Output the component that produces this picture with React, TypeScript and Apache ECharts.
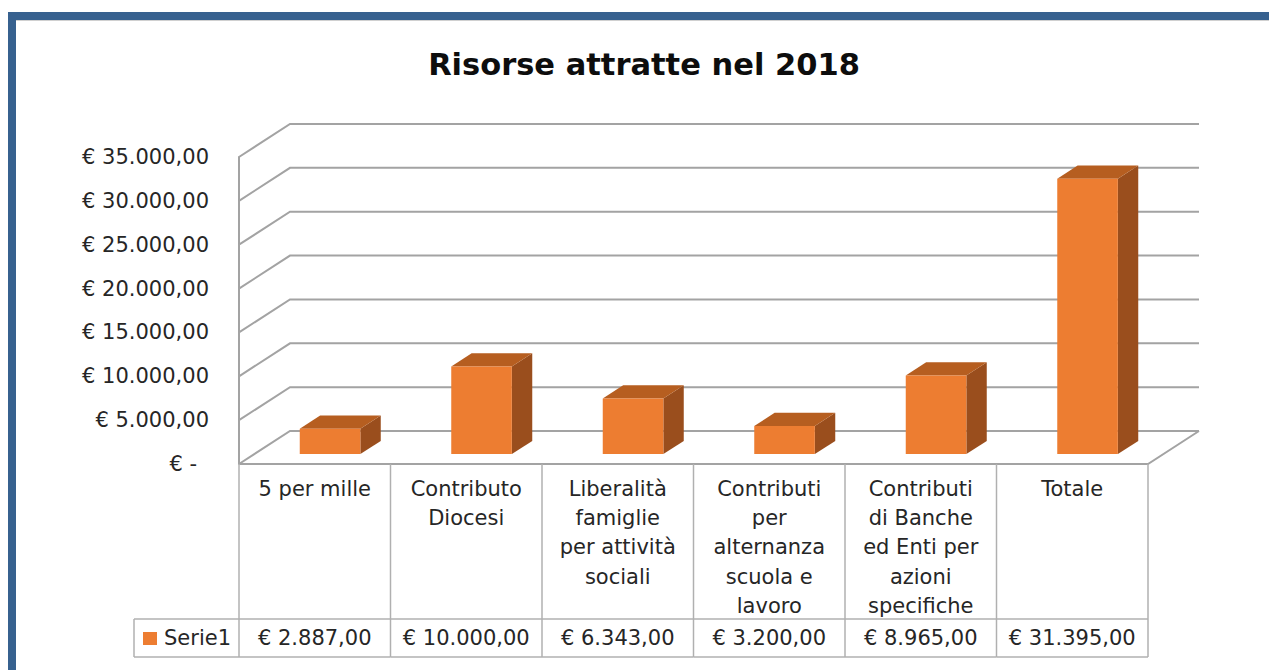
import React, { useEffect, useRef } from 'react';
import * as echarts from 'echarts';

// ---------- data ----------
const chartTitle = 'Risorse attratte nel 2018';
const seriesName = 'Serie1';
const categories = [
  '5 per mille',
  'Contributo Diocesi',
  'Liberalità famiglie per attività sociali',
  'Contributi per alternanza scuola e lavoro',
  'Contributi di Banche ed Enti per azioni specifiche',
  'Totale',
];
const categoryLabels = [
  '5 per mille',
  'Contributo\nDiocesi',
  'Liberalità\nfamiglie\nper attività\nsociali',
  'Contributi\nper\nalternanza\nscuola e\nlavoro',
  'Contributi\ndi Banche\ned Enti per\nazioni\nspecifiche',
  'Totale',
];
const values = [2887, 10000, 6343, 3200, 8965, 31395];
const yTicks = [0, 5000, 10000, 15000, 20000, 25000, 30000, 35000];

// ---------- layout / style ----------
const FONT = "'DejaVu Sans', sans-serif";
const TEXT = '#262626';
const GRID_LEFT = 239;
const GRID_TOP = 157;
const GRID_W = 909;
const GRID_H = 307;
const DX = 51;
const DY = 33;
const GRID_STROKE = '#A3A3A3';
const TABLE_STROKE = '#B0B0B0';
const ROW_TOP = 619;
const TABLE_BOTTOM = 657;
const VALUE_Y = 638;
const LEGEND_LEFT = 134;
const FRONT = '#ED7D31';
const TOPC = '#B65E20';
const SIDE = '#9A4E1D';
const BLUE = '#37618F';

const fmt = (v: number) => {
  const s = Math.round(v)
    .toString()
    .replace(/\B(?=(\d{3})+(?!\d))/g, '.');
  return '€ ' + s + ',00';
};

function buildOption(): any {
  return {
    animation: false,
    backgroundColor: '#ffffff',
    title: {
      text: chartTitle,
      left: 644,
      top: 49,
      textAlign: 'center',
      padding: 0,
      textStyle: { fontFamily: FONT, fontSize: 30.5, fontWeight: 'bold', color: '#0D0D0D' },
    },
    grid: { left: GRID_LEFT, top: GRID_TOP, width: GRID_W, height: GRID_H, containLabel: false },
    xAxis: {
      type: 'category',
      data: categories,
      boundaryGap: true,
      axisLine: { show: false },
      axisTick: { show: false },
      splitLine: { show: false },
      axisLabel: {
        interval: 0,
        formatter: (_v: string, i: number) => categoryLabels[i],
        fontFamily: FONT,
        fontSize: 21,
        lineHeight: 29.3,
        verticalAlign: 'top',
        margin: 10,
        color: TEXT,
      },
    },
    yAxis: {
      type: 'value',
      min: 0,
      max: 35000,
      interval: 5000,
      axisLine: { show: true, lineStyle: { color: GRID_STROKE, width: 2 } },
      axisTick: { show: false },
      splitLine: { show: false },
      axisLabel: {
        margin: 30,
        fontFamily: FONT,
        fontSize: 21,
        color: TEXT,
        formatter: (v: number) => (v === 0 ? '{z|€ -}' : fmt(v)),
        rich: { z: { padding: [0, 12, 0, 0], fontFamily: FONT, fontSize: 21, color: TEXT } },
      },
    },
    graphic: [
      { type: 'rect', shape: { x: 8, y: 12, width: 1261, height: 8 }, style: { fill: BLUE }, z: 10 },
      { type: 'rect', shape: { x: 8, y: 12, width: 8, height: 658 }, style: { fill: BLUE }, z: 10 },
      { type: 'line', shape: { x1: 16, y1: 20.5, x2: 1269, y2: 20.5 }, style: { stroke: '#D0D0D0', lineWidth: 1 }, z: 10 },
      { type: 'line', shape: { x1: LEGEND_LEFT, y1: ROW_TOP, x2: LEGEND_LEFT, y2: TABLE_BOTTOM }, style: { stroke: TABLE_STROKE, lineWidth: 1.5 } },
      { type: 'line', shape: { x1: LEGEND_LEFT, y1: ROW_TOP, x2: GRID_LEFT, y2: ROW_TOP }, style: { stroke: TABLE_STROKE, lineWidth: 1.5 } },
      { type: 'line', shape: { x1: LEGEND_LEFT, y1: TABLE_BOTTOM, x2: GRID_LEFT, y2: TABLE_BOTTOM }, style: { stroke: TABLE_STROKE, lineWidth: 1.5 } },
      { type: 'rect', shape: { x: 143, y: 632, width: 14, height: 13 }, style: { fill: FRONT } },
      {
        type: 'text',
        x: 164,
        y: VALUE_Y,
        style: { text: seriesName, fontFamily: FONT, fontSize: 21, fill: TEXT, align: 'left', verticalAlign: 'middle' },
      },
    ],
    series: [
      {
        type: 'custom',
        name: 'grid3d',
        clip: false,
        silent: true,
        data: yTicks.map((t) => [0, t]),
        encode: { x: 0, y: 1 },
        renderItem: (params: any, api: any) => {
          const cs = params.coordSys;
          const v = api.value(1);
          const y = api.coord([0, v])[1];
          const x0 = cs.x;
          const x1 = cs.x + cs.width;
          const st = { stroke: GRID_STROKE, lineWidth: 2, fill: null };
          const children: any[] = [
            { type: 'polyline', shape: { points: [[x0, y], [x0 + DX, y - DY], [x1 + DX, y - DY]] }, style: st },
          ];
          if (v === 0) {
            children.push({ type: 'polyline', shape: { points: [[x0, y], [x1, y], [x1 + DX, y - DY]] }, style: st });
          }
          return { type: 'group', children };
        },
      },
      {
        type: 'custom',
        name: 'table',
        clip: false,
        silent: true,
        data: values.map((v, i) => [i, v]),
        encode: { x: 0, y: 1 },
        renderItem: (_params: any, api: any) => {
          const idx = api.value(0);
          const v = api.value(1);
          const c = api.coord([idx, 0]);
          const band = api.size([1, 0])[0];
          const xl = c[0] - band / 2;
          const xr = c[0] + band / 2;
          const st = { stroke: TABLE_STROKE, lineWidth: 1.5 };
          const children: any[] = [
            { type: 'line', shape: { x1: xl, y1: c[1], x2: xl, y2: TABLE_BOTTOM }, style: st },
            { type: 'line', shape: { x1: xl, y1: ROW_TOP, x2: xr, y2: ROW_TOP }, style: st },
            { type: 'line', shape: { x1: xl, y1: TABLE_BOTTOM, x2: xr, y2: TABLE_BOTTOM }, style: st },
            {
              type: 'text',
              x: c[0],
              y: VALUE_Y,
              style: { text: fmt(v), fontFamily: FONT, fontSize: 21, fill: TEXT, align: 'center', verticalAlign: 'middle' },
            },
          ];
          if (idx === values.length - 1) {
            children.push({ type: 'line', shape: { x1: xr, y1: c[1], x2: xr, y2: TABLE_BOTTOM }, style: st });
          }
          return { type: 'group', children };
        },
      },
      {
        type: 'custom',
        name: seriesName,
        clip: false,
        data: values.map((v, i) => [i, v]),
        encode: { x: 0, y: 1 },
        renderItem: (_params: any, api: any) => {
          const idx = api.value(0);
          const v = api.value(1);
          const top = api.coord([idx, v]);
          const base = api.coord([idx, 0]);
          const bw = api.size([1, 0])[0] * 0.4;
          const L = top[0] - bw / 2;
          const R = top[0] + bw / 2;
          const fx = DX * 0.3;
          const fy = DY * 0.3;
          const bx = DX * 0.7;
          const by = DY * 0.7;
          const yt = top[1];
          const yb = base[1];
          return {
            type: 'group',
            children: [
              {
                type: 'polygon',
                shape: { points: [[R + fx, yt - fy], [R + bx, yt - by], [R + bx, yb - by], [R + fx, yb - fy]] },
                style: { fill: SIDE },
              },
              {
                type: 'polygon',
                shape: { points: [[L + fx, yt - fy], [R + fx, yt - fy], [R + bx, yt - by], [L + bx, yt - by]] },
                style: { fill: TOPC },
              },
              {
                type: 'rect',
                shape: { x: L + fx, y: yt - fy, width: bw, height: yb - yt },
                style: { fill: FRONT },
              },
            ],
          };
        },
      },
    ],
  };
}

export default function App() {
  const ref = useRef<HTMLDivElement>(null);
  useEffect(() => {
    if (!ref.current) return;
    const chart = echarts.init(ref.current, null, { renderer: 'svg' });
    chart.setOption(buildOption());
    return () => chart.dispose();
  }, []);
  return (
    <div
      ref={ref}
      style={{ position: 'fixed', left: 0, top: 0, width: 1269, height: 670, background: '#ffffff' }}
    />
  );
}
